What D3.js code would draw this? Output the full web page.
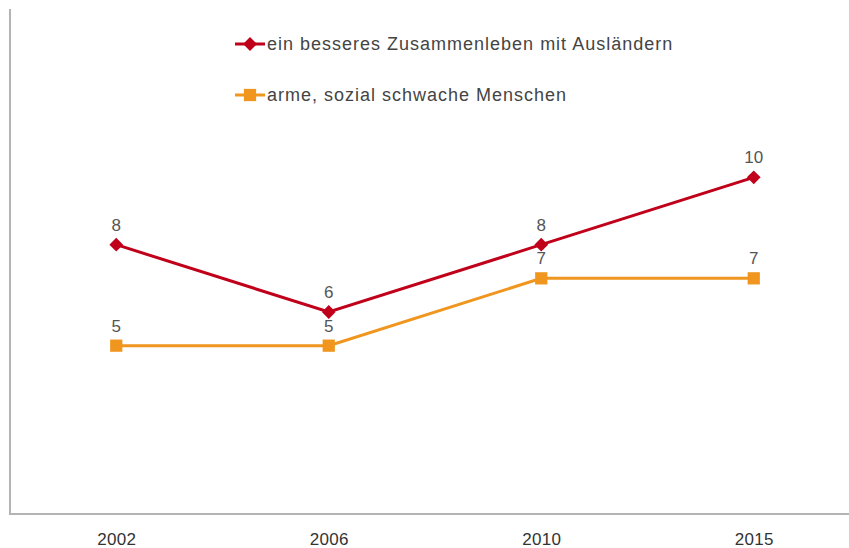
<!DOCTYPE html>
<html><head><meta charset="utf-8">
<script src="https://cdn.jsdelivr.net/npm/d3@7/dist/d3.min.js"></script>
<style>body{margin:0;background:#fff}svg{display:block}</style>
</head><body>
<script>
const years = ["2002", "2006", "2010", "2015"];
const seriesNames = ["ein besseres Zusammenleben mit Ausländern", "arme, sozial schwache Menschen"];
const auslaender = [8, 6, 8, 10];
const arme = [5, 5, 7, 7];

const W = 849, H = 548;
const svg = d3.select("body").append("svg").attr("width", W).attr("height", H);
const x = d3.scalePoint().domain(years).range([10, 860]).padding(0.5);
const y = d3.scaleLinear().domain([0, 15]).range([514, 9]);

const font = "'Liberation Sans', Arial, sans-serif";
const axisCol = "#b4b4b4";

// axes
svg.append("line").attr("x1", 10).attr("x2", 10).attr("y1", y(15)).attr("y2", y(0))
  .attr("stroke", axisCol).attr("stroke-width", 2);
svg.append("line").attr("x1", 9).attr("x2", W).attr("y1", y(0)).attr("y2", y(0))
  .attr("stroke", axisCol).attr("stroke-width", 2);

const xAxis = svg.append("g").attr("transform", `translate(0,${y(0)})`)
  .call(d3.axisBottom(x).tickSize(0).tickPadding(19));
xAxis.select(".domain").remove();
xAxis.selectAll("text").attr("font-family", font).attr("font-size", 17).attr("fill", "#333")
  .attr("letter-spacing", "0.3px");

const diamond = {draw(ctx, size) { const r = Math.sqrt(size) / 2 * 1.45;
  ctx.moveTo(0, -r); ctx.lineTo(r, 0); ctx.lineTo(0, r); ctx.lineTo(-r, 0); ctx.closePath(); }};

const series = [
  {name: seriesNames[0], values: auslaender, color: "#c0001a", sym: diamond, size: 90},
  {name: seriesNames[1], values: arme, color: "#f0961e", sym: d3.symbolSquare, size: 150}
];

const line = d3.line().x((d, i) => x(years[i])).y(d => y(d));

series.slice().reverse().forEach(s => {
  svg.append("path").datum(s.values).attr("d", line).attr("fill", "none")
    .attr("stroke", s.color).attr("stroke-width", 3);
  svg.selectAll(null).data(s.values).enter().append("path")
    .attr("transform", (d, i) => `translate(${x(years[i])},${y(d)})`)
    .attr("d", d3.symbol().type(s.sym).size(s.size)).attr("fill", s.color);
  svg.selectAll(null).data(s.values).enter().append("text")
    .attr("x", (d, i) => x(years[i])).attr("y", d => y(d) - 14)
    .attr("text-anchor", "middle").attr("font-family", font).attr("font-size", 17)
    .attr("fill", "#555").text(d => d);
});

// legend
series.forEach((s, i) => {
  const ly = 44 + i * 51;
  const g = svg.append("g");
  g.append("line").attr("x1", 235).attr("x2", 265).attr("y1", ly).attr("y2", ly)
    .attr("stroke", s.color).attr("stroke-width", 3);
  g.append("path").attr("transform", `translate(250,${ly})`)
    .attr("d", d3.symbol().type(s.sym).size(s.size)).attr("fill", s.color);
  g.append("text").attr("x", 267).attr("y", ly + 6).attr("font-family", font)
    .attr("font-size", 18).attr("fill", "#444").attr("letter-spacing", "1px").text(s.name);
});
</script>
</body></html>
